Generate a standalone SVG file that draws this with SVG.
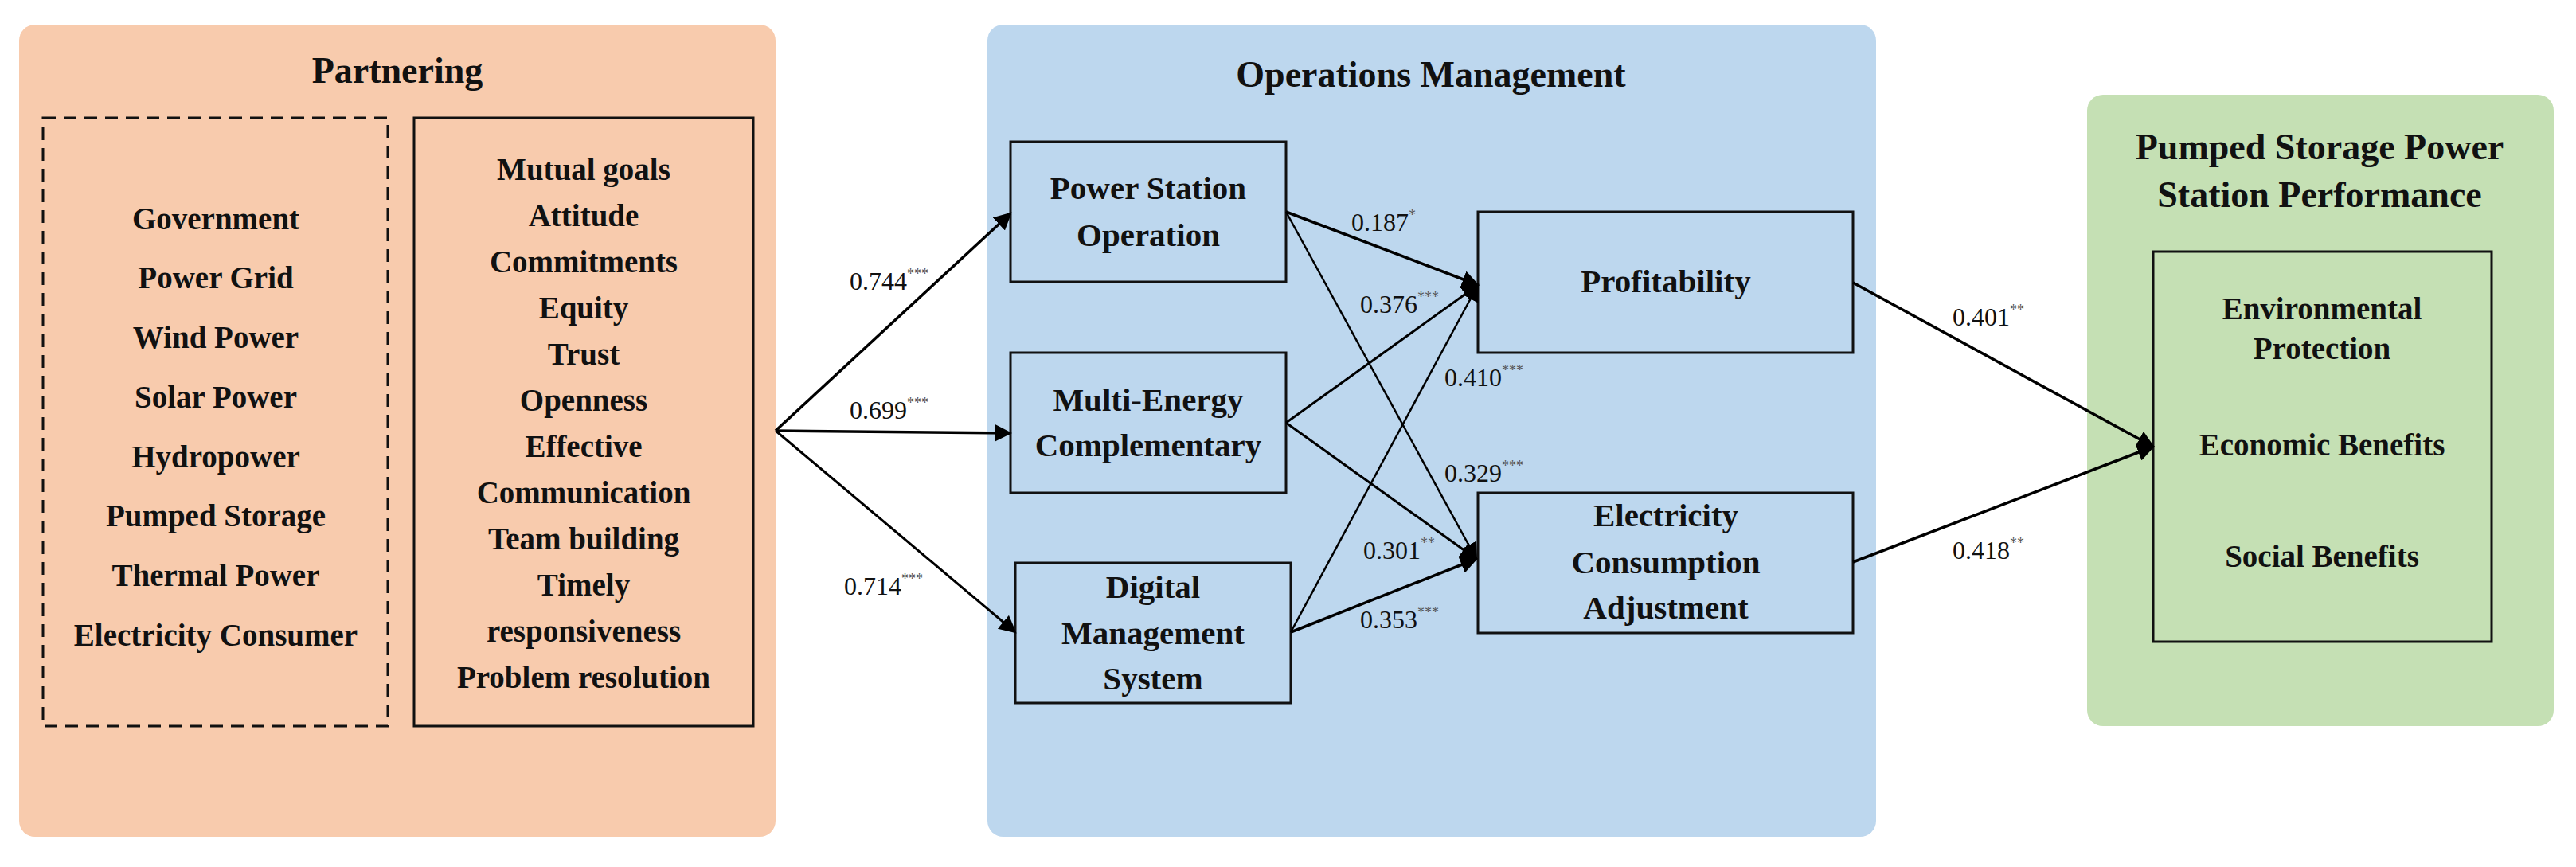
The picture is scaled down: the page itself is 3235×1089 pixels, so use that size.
<svg xmlns="http://www.w3.org/2000/svg" width="3235" height="1089" viewBox="0 0 3235 1089">
<style>
.t{font-family:"Liberation Serif","DejaVu Serif",serif;font-weight:bold;fill:#111;text-anchor:middle}
.ti{font-size:46px}
.li{font-size:39px}
.nd{font-size:41px}
.lb{font-family:"Liberation Serif","DejaVu Serif",serif;font-size:32px;fill:#111}
.sp{font-size:18px;fill:#555}
.box{fill:none;stroke:#111;stroke-width:3}
.c{stroke:#000;fill:none}
</style>
<defs>
<marker id="ah" viewBox="0 0 10 10" refX="9" refY="5" markerWidth="6" markerHeight="6" markerUnits="userSpaceOnUse" orient="auto"><path d="M0,0 L10,5 L0,10 z" fill="#000"/></marker>
<marker id="a" viewBox="0 0 10 10" refX="9" refY="5" markerWidth="22" markerHeight="22" markerUnits="userSpaceOnUse" orient="auto"><path d="M0,0 L10,5 L0,10 z" fill="#000"/></marker>
</defs>
<g id="partnering">
<rect x="24" y="31" width="950" height="1020" rx="20" fill="#f8cbad"/>
<text class="t ti" x="499" y="104">Partnering</text>
<rect x="54" y="148" width="433" height="764" fill="none" stroke="#111" stroke-width="3" stroke-dasharray="16,10"/>
<g class="t li">
<text x="271" y="288">Government</text><text x="271" y="362">Power Grid</text><text x="271" y="437">Wind Power</text><text x="271" y="512">Solar Power</text><text x="271" y="587">Hydropower</text><text x="271" y="661">Pumped Storage</text><text x="271" y="736">Thermal Power</text><text x="271" y="811">Electricity Consumer</text>
</g>
<rect class="box" x="520" y="148" width="426" height="764"/>
<g class="t li">
<text x="733" y="226">Mutual goals</text><text x="733" y="284">Attitude</text><text x="733" y="342">Commitments</text><text x="733" y="400">Equity</text><text x="733" y="458">Trust</text><text x="733" y="516">Openness</text><text x="733" y="574">Effective</text><text x="733" y="632">Communication</text><text x="733" y="690">Team building</text><text x="733" y="748">Timely</text><text x="733" y="806">responsiveness</text><text x="733" y="864">Problem resolution</text>
</g>
</g>
<g id="operations">
<rect x="1240" y="31" width="1116" height="1020" rx="20" fill="#bdd7ee"/>
<text class="t ti" x="1797" y="109">Operations Management</text>
</g>
<g id="performance">
<rect x="2621" y="119" width="586" height="793" rx="20" fill="#c5e0b4"/>
<text class="t ti" x="2913" y="200">Pumped Storage Power</text>
<text class="t ti" x="2913" y="260">Station Performance</text>
<rect class="box" x="2704" y="316" width="425" height="490"/>
<g class="t li">
<text x="2916" y="401">Environmental</text><text x="2916" y="451">Protection</text><text x="2916" y="572">Economic Benefits</text><text x="2916" y="712">Social Benefits</text>
</g>
</g>
<g id="pso"><rect class="box" x="1269" y="178" width="346" height="176"/><text class="t nd" x="1442" y="250">Power Station</text><text class="t nd" x="1442" y="309">Operation</text></g>
<g id="mec"><rect class="box" x="1269" y="443" width="346" height="176"/><text class="t nd" x="1442" y="516">Multi-Energy</text><text class="t nd" x="1442" y="573">Complementary</text></g>
<g id="dms"><rect class="box" x="1275" y="707" width="346" height="176"/><text class="t nd" x="1448" y="751">Digital</text><text class="t nd" x="1448" y="809">Management</text><text class="t nd" x="1448" y="866">System</text></g>
<g id="profit"><rect class="box" x="1856" y="266" width="471" height="177"/><text class="t nd" x="2092" y="367">Profitability</text></g>
<g id="eca"><rect class="box" x="1856" y="619" width="471" height="176"/><text class="t nd" x="2092" y="661">Electricity</text><text class="t nd" x="2092" y="720">Consumption</text><text class="t nd" x="2092" y="777">Adjustment</text></g>
<g id="connectors">
<path class="c" stroke-width="3.5" d="M974,541 L1269,268" marker-end="url(#a)"/>
<path class="c" stroke-width="3.5" d="M974,541 L1269,544" marker-end="url(#a)"/>
<path class="c" stroke-width="3" d="M974,541 L1275,794" marker-end="url(#a)"/>
<path class="c" stroke-width="3.5" d="M1615,266 L1856,358" marker-end="url(#a)"/>
<path class="c" stroke-width="2.5" d="M1615,266 L1854,702" marker-end="url(#a)"/>
<path class="c" stroke-width="3" d="M1615,531 L1856,358" marker-end="url(#a)"/>
<path class="c" stroke-width="3" d="M1615,531 L1854,702" marker-end="url(#a)"/>
<path class="c" stroke-width="2.5" d="M1621,794 L1856,358" marker-end="url(#a)"/>
<path class="c" stroke-width="3.5" d="M1621,794 L1854,702" marker-end="url(#a)"/>
<path class="c" stroke-width="3.5" d="M2327,355 L2704,561" marker-end="url(#a)"/>
<path class="c" stroke-width="3.5" d="M2327,706 L2704,561" marker-end="url(#a)"/>
<text class="lb" x="1067" y="364">0.744<tspan class="sp" dy="-14">***</tspan></text>
<text class="lb" x="1067" y="526">0.699<tspan class="sp" dy="-14">***</tspan></text>
<text class="lb" x="1060" y="747">0.714<tspan class="sp" dy="-14">***</tspan></text>
<text class="lb" x="1697" y="290">0.187<tspan class="sp" dy="-14">*</tspan></text>
<text class="lb" x="1708" y="393">0.376<tspan class="sp" dy="-14">***</tspan></text>
<text class="lb" x="1814" y="485">0.410<tspan class="sp" dy="-14">***</tspan></text>
<text class="lb" x="1814" y="605">0.329<tspan class="sp" dy="-14">***</tspan></text>
<text class="lb" x="1712" y="702">0.301<tspan class="sp" dy="-14">**</tspan></text>
<text class="lb" x="1708" y="789">0.353<tspan class="sp" dy="-14">***</tspan></text>
<text class="lb" x="2452" y="409">0.401<tspan class="sp" dy="-14">**</tspan></text>
<text class="lb" x="2452" y="702">0.418<tspan class="sp" dy="-14">**</tspan></text>
</g>
</svg>
